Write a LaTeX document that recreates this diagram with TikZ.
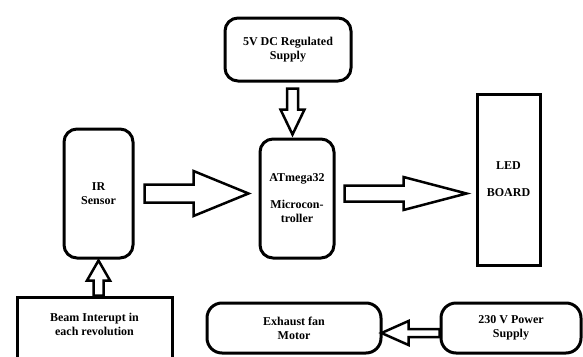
\documentclass[tikz,border=0pt]{standalone}
\usepackage{fontspec}
\setmainfont{Liberation Serif}
\tikzset{every picture/.style={/utils/exec={\fontsize{12}{14}\selectfont\bfseries}}}
\usetikzlibrary{calc}
\tikzset{
  blk/.style={draw, line width=3pt, align=center, inner sep=2pt},
  rblk/.style={blk, rounded corners=13pt},
  fatarrow/.style={draw, line width=2.5pt, fill=white, line join=miter},
}

\begin{document}
\begin{tikzpicture}[x=1pt, y=-1pt]
  \useasboundingbox (0,0) rectangle (583,356);
  \clip (0,0) rectangle (583,356);

  \node [rblk, minimum width=126, minimum height=63] (supply) at (288,49.5) {5V DC Regulated\\Supply};
  \node [rblk, minimum width=74, minimum height=119] (mcu) at (297,198.5) {ATmega32\\[13pt]Microcon-\\troller};
  \node [rblk, minimum width=69, minimum height=129] (ir) at (98.5,193.5) {IR\\Sensor};
  \node [blk, minimum width=63, minimum height=171] (led) at (508.5,179.5) {LED\\[13pt]BOARD};
  \node [blk, minimum width=155, minimum height=86] (beam) at (94.5,340) {Beam Interupt in\\each revolution\\ \strut\\ \strut};
  \node [rblk, rounded corners=15pt, minimum width=174, minimum height=50] (fan) at (294,328) {Exhaust fan\\Motor};
  \node [rblk, rounded corners=15pt, minimum width=140, minimum height=50] (power) at (511,328) {230 V Power\\Supply};

  \coordinate (s1) at ($(supply.south)!0.5!(mcu.north)$);

  \draw [fatarrow] ($(s1 |- supply.south)+(-5.5,6)$) -- ++(0,21) -- ++(-6.5,0) -- ++(12,25) -- ++(12,-25) -- ++(-6.5,0) -- ++(0,-21) -- cycle;
  \draw [fatarrow] ($(ir.east)+(10,-9)$) -- ++(49,0) -- ++(0,-13.5) -- ++(55,22.5) -- ++(-55,22.5) -- ++(0,-13.5) -- ++(-49,0) -- cycle;
  \draw [fatarrow] ($(mcu.east |- ir.east)+(9,-8)$) -- ++(59,0) -- ++(0,-8.5) -- ++(63,16.5) -- ++(-63,16.5) -- ++(0,-8.5) -- ++(-59,0) -- cycle;
  \draw [fatarrow] ($(beam.north -| ir.south)+(-5,0)$) -- ++(0,-15) -- ++(-6.5,0) -- ++(11.5,-20) -- ++(11.5,20) -- ++(-6.5,0) -- ++(0,15) -- cycle;
  \draw [fatarrow] ($(power.west)+(0,1)$) -- ++(-31,0) -- ++(0,-8) -- ++(-27,12) -- ++(27,12) -- ++(0,-8) -- ++(31,0) -- cycle;
\end{tikzpicture}
\end{document}
